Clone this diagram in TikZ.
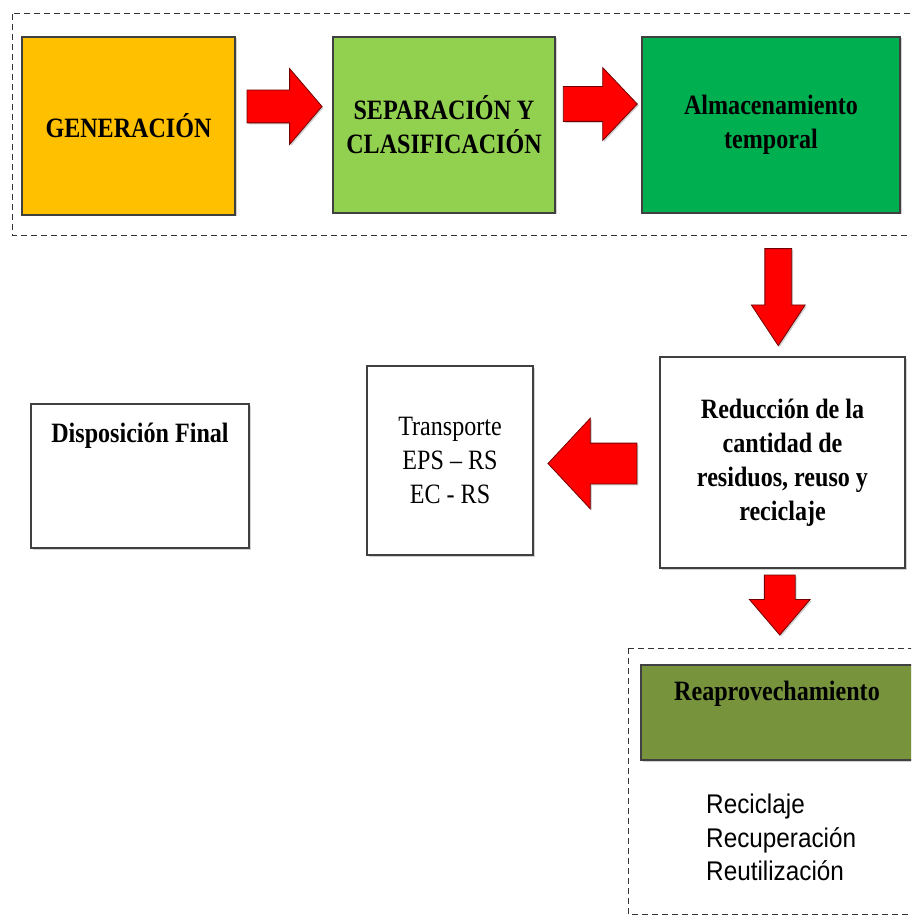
\documentclass[tikz,border=0pt]{standalone}
\usepackage{fontspec}
\setmainfont{Liberation Serif}[FakeStretch=0.86]
\newfontfamily\listfont{Liberation Sans}[FakeStretch=0.9]
\usetikzlibrary{shapes.arrows,calc,shadows}
\definecolor{cgen}{HTML}{FFC000}
\definecolor{csep}{HTML}{92D050}
\definecolor{calm}{HTML}{00B050}
\definecolor{crea}{HTML}{77933C}
\begin{document}
\begin{tikzpicture}[x=1pt,y=-1pt,
  box/.style={draw=black!75, line width=1.5pt, inner sep=0pt, align=center,
    font=\fontsize{28}{34}\selectfont,
    drop shadow={shadow xshift=1.5pt, shadow yshift=-1.5pt, opacity=0.35}},
  bbox/.style={box, font=\fontsize{28}{34}\selectfont\bfseries},
  blk/.style={single arrow, fill=red, draw=black!55!red, line width=0.8pt,
    inner sep=0pt, single arrow head indent=0pt, text depth=0pt,
    text width=#1, text height=#1,
    drop shadow={shadow xshift=1.5pt, shadow yshift=-1.5pt, opacity=0.35}},
  grp/.style={draw=black!80, dash pattern=on 6pt off 4pt, line width=1pt}
]
\clip (0,0) rectangle (911,917);
\fill[white] (0,0) rectangle (911,917);

% dashed groups
\draw[grp] (12,14) rectangle (930,235);
\draw[grp] (628,648) rectangle (930,914);

% boxes
\node[bbox, fill=cgen, minimum width=213, minimum height=178] (gen) at (128.5,126) {GENERACIÓN};
\node[bbox, fill=csep, minimum width=222, minimum height=176] (sep) at (444,125) {SEPARACIÓN Y\\CLASIFICACIÓN};
\node[bbox, fill=calm, minimum width=258, minimum height=176] (alm) at (771,125) {Almacenamiento\\temporal};
\node[bbox, fill=white, minimum width=245, minimum height=211] (red) at (782.5,462.5) {Reducción de la\\cantidad de\\residuos, reuso y\\reciclaje};
\node[box, fill=white, minimum width=166, minimum height=189] (tra) at (450,460.5) {Transporte\\EPS – RS\\EC - RS};
\node[bbox, fill=white, minimum width=218, text height=38pt, text depth=106pt] (dis) at (140,476) {Disposición Final};
\node[bbox, fill=crea, minimum width=272, text height=35pt, text depth=60pt] (rea) at (777,712.5) {Reaprovechamiento};
\node[anchor=north west, inner sep=0pt, align=left, font=\listfont\fontsize{27}{33.5}\selectfont] (lst) at (706,794) {Reciclaje\\Recuperación\\Reutilización};

% block arrows
\node[blk=32pt, minimum height=75pt, single arrow head extend=21.5pt, single arrow tip angle=99] (a1)
  at ($(gen.east)!0.5!(sep.west)+(-6.5,-19)$) {};
\node[blk=34pt, minimum height=74pt, single arrow head extend=19pt, single arrow tip angle=93] (a2)
  at ($(sep.east)!0.5!(alm.west)+(-6.5,-21)$) {};
\node[blk=26pt, shape border rotate=270, minimum height=97pt, single arrow head extend=13.5pt, single arrow tip angle=67] (a3)
  at ($(alm.south)!0.5!(red.north)+(1.5,2)$) {};
\node[blk=40pt, shape border rotate=180, minimum height=89pt, single arrow head extend=25pt, single arrow tip angle=94] (a4)
  at ($(red.west)!0.5!(tra.east)+(5.5,2)$) {};
\node[blk=30pt, shape border rotate=270, minimum height=60pt, single arrow head extend=15pt, single arrow tip angle=81] (a5)
  at ($(red.south)!0.5!(rea.north)+(0,-20.5)$) {};
\end{tikzpicture}
\end{document}
